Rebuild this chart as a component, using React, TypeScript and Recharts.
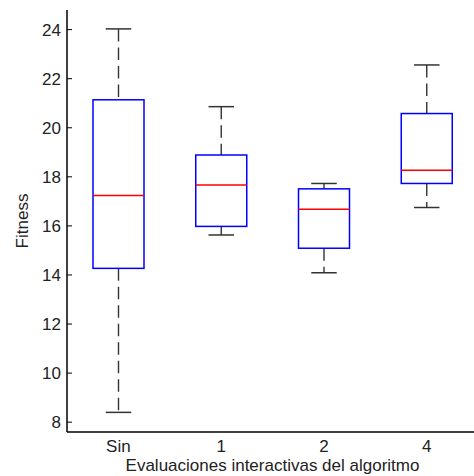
import { ComposedChart, Bar, XAxis, YAxis } from 'recharts';

const categories = ['Sin', '1', '2', '4'];
const whiskerLow = [8.4, 15.63, 14.09, 16.75];
const q1 = [14.27, 15.98, 15.09, 17.73];
const median = [17.24, 17.67, 16.68, 18.27];
const q3 = [21.14, 18.89, 17.51, 20.58];
const whiskerHigh = [24.03, 20.86, 17.73, 22.56];
const yTicks = [8, 10, 12, 14, 16, 18, 20, 22, 24];

const data = categories.map((name, i) => ({
  name,
  range: [whiskerLow[i], whiskerHigh[i]],
  lo: whiskerLow[i],
  q1: q1[i],
  med: median[i],
  q3: q3[i],
  hi: whiskerHigh[i],
}));

const FONT = '"Liberation Sans", Arial, sans-serif';
const TEXT = '#222';
const WHISKER = '#333';

// box + whiskers drawn from the bar's pixel range (lo..hi)
function BoxShape(props: any) {
  const { x, y, width, height, payload } = props;
  const top = Math.min(y, y + height);
  const bottom = Math.max(y, y + height);
  const { lo, hi } = payload;
  const py = (v: number) => top + ((hi - v) / (hi - lo)) * (bottom - top);
  const cx = x + width / 2;
  const cap = width / 4;
  return (
    <g>
      {/* whiskers are drawn top to bottom, like the original */}
      <line x1={cx} x2={cx} y1={py(hi)} y2={py(payload.q3)} stroke={WHISKER} strokeWidth={1.4} strokeDasharray="12.5 6" />
      <line x1={cx} x2={cx} y1={py(payload.q1)} y2={py(lo)} stroke={WHISKER} strokeWidth={1.4} strokeDasharray="12.5 6" />
      <line x1={cx - cap} x2={cx + cap} y1={py(hi)} y2={py(hi)} stroke={WHISKER} strokeWidth={1.5} />
      <line x1={cx - cap} x2={cx + cap} y1={py(lo)} y2={py(lo)} stroke={WHISKER} strokeWidth={1.5} />
      <rect x={x} y={py(payload.q3)} width={width} height={py(payload.q1) - py(payload.q3)} fill="none" stroke="#0000ff" strokeWidth={1.5} />
      <line x1={x} x2={x + width} y1={py(payload.med)} y2={py(payload.med)} stroke="#ff0000" strokeWidth={1.5} />
    </g>
  );
}

export default function App() {
  return (
    <div style={{ position: 'fixed', left: 0, top: 0, width: 474, height: 476, overflow: 'hidden', background: '#fff' }}>
      <ComposedChart width={480} height={476} data={data} margin={{ top: 10, right: 2, bottom: 0, left: 0 }} style={{ fontFamily: FONT }}>
        <XAxis
          dataKey="name"
          height={44}
          tickLine={false}
          tickSize={0}
          tickMargin={8}
          axisLine={{ stroke: '#000', strokeWidth: 1.5 }}
          tick={{ fill: TEXT, fontSize: 17, fontFamily: FONT }}
          label={{ value: 'Evaluaciones interactivas del algoritmo', position: 'insideBottom', offset: 5, fill: TEXT, fontSize: 17, fontFamily: FONT }}
        />
        <XAxis xAxisId="top" dataKey="name" orientation="top" height={0} tick={false} tickLine={false} axisLine={{ stroke: '#000', strokeWidth: 1.5 }} />
        <YAxis
          type="number"
          domain={[7.6, 24.8]}
          ticks={yTicks}
          width={67}
          allowDataOverflow
          tickSize={-5}
          tickMargin={11}
          axisLine={{ stroke: '#000', strokeWidth: 1.5 }}
          tickLine={{ stroke: '#000' }}
          tick={{ fill: TEXT, fontSize: 17, fontFamily: FONT }}
          label={{
            content: (p: any) => {
              const vb = p.viewBox;
              const lx = vb.x + 22;
              const ly = vb.y + vb.height / 2;
              return (
                <text x={lx} y={ly} transform={`rotate(-90 ${lx} ${ly})`} textAnchor="middle" dominantBaseline="central" fill={TEXT} fontSize={17} fontFamily={FONT}>
                  Fitness
                </text>
              );
            },
          }}
        />
        <YAxis
          yAxisId="r"
          orientation="right"
          type="number"
          domain={[7.6, 24.8]}
          ticks={yTicks}
          width={0}
          allowDataOverflow
          tickSize={-5}
          tickFormatter={() => ''}
          axisLine={false}
          tickLine={{ stroke: '#777' }}
        />
        <Bar dataKey="range" barSize={51} shape={<BoxShape />} isAnimationActive={false} />
      </ComposedChart>
    </div>
  );
}
